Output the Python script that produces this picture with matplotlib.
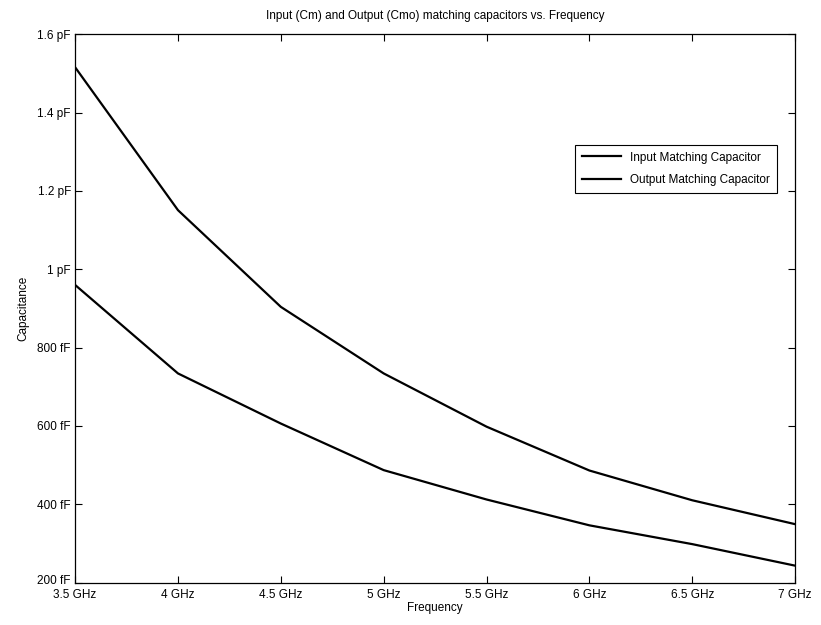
import matplotlib
matplotlib.use("Agg")
import matplotlib.pyplot as plt
import matplotlib.transforms as mtransforms

plt.rcParams['font.family'] = ['Liberation Sans', 'DejaVu Sans']

freq_ghz = [3.5, 4.0, 4.5, 5.0, 5.5, 6.0, 6.5, 7.0]
input_cap_ff = [1516, 1151, 904, 734, 598, 486, 410, 349]
output_cap_ff = [960, 734, 606, 487, 412, 346, 298, 243]

x_ticks = [3.5, 4.0, 4.5, 5.0, 5.5, 6.0, 6.5, 7.0]
x_tick_labels = ['3.5 GHz', '4 GHz', '4.5 GHz', '5 GHz', '5.5 GHz', '6 GHz', '6.5 GHz', '7 GHz']
y_ticks = [200, 400, 600, 800, 1000, 1200, 1400, 1600]
y_tick_labels = ['200 fF', '400 fF', '600 fF', '800 fF', '1 pF', '1.2 pF', '1.4 pF', '1.6 pF']

fig = plt.figure(figsize=(8.21, 6.25), dpi=100)
ax = fig.add_axes([0.0915, 0.068, 0.877, 0.877])

ax.plot(freq_ghz, input_cap_ff, color='black', lw=1.6, label='Input Matching Capacitor')
ax.plot(freq_ghz, output_cap_ff, color='black', lw=1.6, label='Output Matching Capacitor')

ax.set_xlim(3.5, 7.0)
ax.set_ylim(200, 1600)
ax.set_xticks(x_ticks)
ax.set_xticklabels(x_tick_labels)
ax.set_yticks(y_ticks)
ax.set_yticklabels(y_tick_labels)
ax.tick_params(direction='in', length=5, width=0.8, top=True, right=True,
               labelsize=8.5)
ax.tick_params(axis='x', pad=4.5)
ax.tick_params(axis='y', pad=3)
for s in ax.spines.values():
    s.set_linewidth(0.9)

# nudge the bottom y label up slightly so it does not collide with "3.5 GHz"
lbl = ax.get_yticklabels()[0]
lbl.set_transform(lbl.get_transform() + mtransforms.ScaledTranslation(0, 2 / 72, fig.dpi_scale_trans))

ax.set_xlabel('Frequency', fontsize=8.5, labelpad=1)
ax.set_ylabel('Capacitance', fontsize=8.5, labelpad=6)
ax.set_title('Input (Cm) and Output (Cmo) matching capacitors vs. Frequency',
             fontsize=8.5, pad=11)

leg = ax.legend(loc='upper right', bbox_to_anchor=(0.975, 0.799), fontsize=8.5,
                frameon=True, fancybox=False, edgecolor='black', framealpha=1,
                handlelength=3.3, borderpad=0.6, labelspacing=0.85,
                borderaxespad=0.0)
leg.get_frame().set_linewidth(0.8)

fig.savefig('out.png', dpi=100)
